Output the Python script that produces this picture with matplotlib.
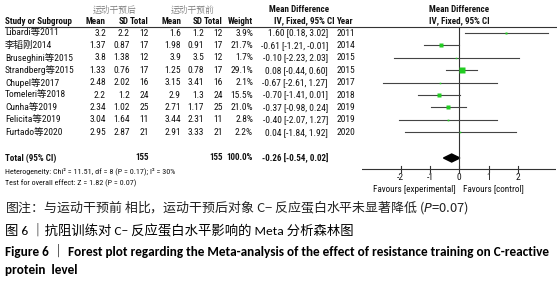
import matplotlib
matplotlib.use("Agg")
import numpy as np
from matplotlib import pyplot as plt
from matplotlib.patches import Polygon

# study data
studies = ['Libardi等2011', '李韬刚2014', 'Bruseghini等2015', 'Strandberg等2015', 'Chupel等2017',
           'Tomeleri等2018', 'Cunha等2019', 'Felicita等2019', 'Furtado等2020']
mean_exp = [3.2, 1.37, 3.8, 1.33, 2.48, 2.2, 2.34, 3.04, 2.95]
sd_exp = [2.2, 0.87, 1.38, 0.76, 2.02, 1.2, 1.02, 1.64, 2.87]
n_exp = [12, 17, 12, 17, 16, 24, 25, 11, 21]
mean_ctl = [1.6, 1.98, 3.9, 1.25, 3.15, 2.9, 2.71, 3.44, 2.91]
sd_ctl = [1.2, 0.91, 3.5, 0.78, 3.41, 1.3, 1.17, 2.31, 3.33]
n_ctl = [12, 17, 12, 17, 16, 24, 25, 11, 21]
weights = [3.9, 21.7, 1.7, 29.1, 2.1, 15.5, 21.0, 2.8, 2.2]
md = [1.60, -0.61, -0.10, 0.08, -0.67, -0.70, -0.37, -0.40, 0.04]
ci_lo = [0.18, -1.21, -2.23, -0.44, -2.61, -1.41, -0.98, -2.07, -1.84]
ci_hi = [3.02, -0.01, 2.03, 0.60, 1.27, 0.01, 0.24, 1.27, 1.92]
years = [2011, 2014, 2015, 2015, 2017, 2018, 2019, 2019, 2020]

total_md = -0.26
total_lo = -0.54
total_hi = 0.02
total_n_exp = 155
total_n_ctl = 155
ticks = [-2, -1, 0, 1, 2]

W, H = 557, 281
fig = plt.figure(figsize=(W / 100, H / 100), dpi=100)
ax = fig.add_axes([0, 0, 1, 1])
ax.set_xlim(0, W)
ax.set_ylim(H, 0)
ax.axis('off')

tab_font = ['Roboto Condensed', 'Liberation Sans', 'Noto Sans CJK SC']
cap_font = ['Carlito', 'Noto Sans CJK SC']
fs = 6.8
fsb = 6.5

def t(x, y, s, ha='left', weight='normal', **kw):
    size = kw.pop('size', fsb if weight == 'bold' else fs)
    ax.text(x, y, s, ha=ha, va='center', fontsize=size,
            family=kw.pop('family', tab_font), fontweight=weight,
            color=kw.pop('color', '#111111'), **kw)

# headers
grp_font = ['Noto Serif CJK JP', 'Noto Sans CJK SC']
t(115, 10, '运动干预后', ha='center', family=grp_font, color='#777777', size=6.3)
t(193, 10, '运动干预前', ha='center', family=grp_font, color='#777777', size=6.3)
t(299, 10, 'Mean Difference', ha='center', weight='bold')
t(459, 10, 'Mean Difference', ha='center', weight='bold')
hy = 21
t(5, hy, 'Study or Subgroup', weight='bold')
t(106, hy, 'Mean', ha='right', weight='bold')
t(129, hy, 'SD', ha='right', weight='bold')
t(149, hy, 'Total', ha='right', weight='bold')
t(181, hy, 'Mean', ha='right', weight='bold')
t(203, hy, 'SD', ha='right', weight='bold')
t(223, hy, 'Total', ha='right', weight='bold')
t(253, hy, 'Weight', ha='right', weight='bold')
t(274, hy, 'IV, Fixed, 95% CI', weight='bold')
t(337, hy, 'Year', weight='bold')
t(459, hy, 'IV, Fixed, 95% CI', ha='center', weight='bold')
ax.plot([5, W], [27, 27], color='#333333', lw=0.8)

# rows
row0, step = 33, 12.4
for i in range(len(studies)):
    y = row0 + i * step
    t(5, y, studies[i])
    t(106, y, f'{mean_exp[i]:g}', ha='right')
    t(130, y, f'{sd_exp[i]:g}', ha='right')
    t(149, y, f'{n_exp[i]}', ha='right')
    t(181, y, f'{mean_ctl[i]:g}', ha='right')
    t(204, y, f'{sd_ctl[i]:g}', ha='right')
    t(223, y, f'{n_ctl[i]}', ha='right')
    t(253, y, f'{weights[i]:.1f}%', ha='right')
    t(328, y, f'{md[i]:.2f} [{ci_lo[i]:.2f}, {ci_hi[i]:.2f}]', ha='right')
    t(337, y, f'{years[i]}')

ty = 158
t(5, ty, 'Total (95% CI)', weight='bold')
t(149, ty, f'{total_n_exp}', ha='right', weight='bold')
t(223, ty, f'{total_n_ctl}', ha='right', weight='bold')
t(253, ty, f'{sum(weights):.1f}%', ha='right', weight='bold')
t(328, ty, f'{total_md:.2f} [{total_lo:.2f}, {total_hi:.2f}]', ha='right', weight='bold')
t(5, 171, 'Heterogeneity: Chi² = 11.51, df = 8 (P = 0.17); I² = 30%', size=5.8)
t(5, 183, 'Test for overall effect: Z = 1.82 (P = 0.07)', size=5.8)

# forest panel
x0px, ppu = 459.3, 29.3
xl, xr = 362, 556
fx = fig.add_axes([xl / W, 0, (xr - xl) / W, 1])
fx.set_xlim((xl - x0px) / ppu, (xr - x0px) / ppu)
fx.set_ylim(H, 0)
fx.axis('off')
fx.patch.set_alpha(0)

axis_y = 169
fx.plot([0, 0], [27, axis_y], color='#333333', lw=0.8)
for i in range(len(studies)):
    y = row0 + i * step
    fx.plot([ci_lo[i], ci_hi[i]], [y, y], color='#444444', lw=0.8)
    side = 5.5 * np.sqrt(weights[i] / max(weights))
    fx.plot(md[i], y, marker='s', ms=max(side, 1.5) * 0.72, color='#22cc22', mec='none')

dh = 4
fx.add_patch(Polygon([[total_lo, ty], [total_md, ty - dh], [total_hi, ty], [total_md, ty + dh]],
                     closed=True, color='black'))

fx.plot(fx.get_xlim(), [axis_y, axis_y], color='#333333', lw=0.8)
for tk in ticks:
    fx.plot([tk, tk], [axis_y - 3, axis_y + 3], color='#333333', lw=0.8)
    fx.text(tk, 178, f'{tk}', ha='center', va='center', fontsize=fs, family=tab_font, color='#111111')
fx.text(-0.13, 189, 'Favours [experimental]', ha='right', va='center', fontsize=6.6, family=tab_font, color='#111111')
fx.text(0.13, 189, 'Favours [control]', ha='left', va='center', fontsize=6.6, family=tab_font, color='#111111')

# captions
ax.text(5, 207, '图注：与运动干预前 相比，运动干预后对象 C− 反应蛋白水平未显著降低 (${\\it P}$=0.07)',
        ha='left', va='center', fontsize=9.3, family=cap_font[::-1], color='#222222')
ax.text(5, 230, '图 6 ｜抗阻训练对 C− 反应蛋白水平影响的 Meta 分析森林图',
        ha='left', va='center', fontsize=9.6, family=cap_font, fontweight='medium')
ax.text(5, 251, 'Figure 6 ｜ Forest plot regarding the Meta-analysis of the effect of resistance training on C-reactive',
        ha='left', va='center', fontsize=9.5, family=cap_font, fontweight='bold')
ax.text(5, 270, 'protein  level', ha='left', va='center', fontsize=9.5,
        family=cap_font, fontweight='bold')

fig.savefig('out.png', dpi=100)
